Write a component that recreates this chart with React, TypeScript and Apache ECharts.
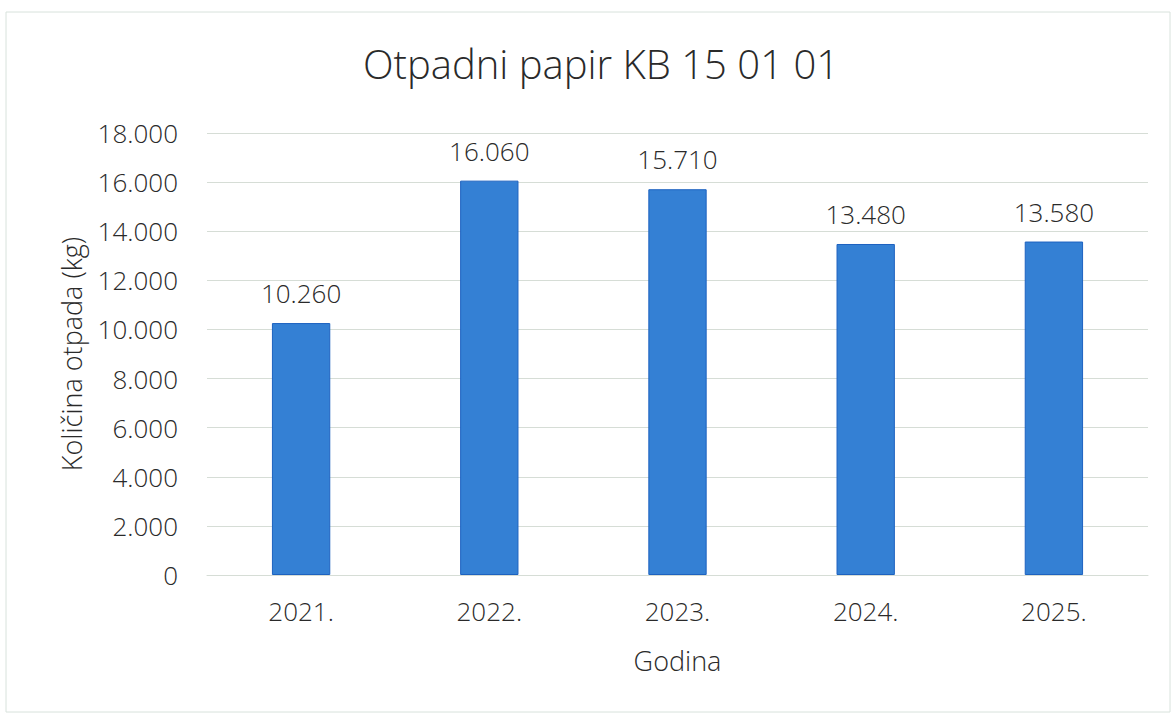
import React, { useEffect, useRef } from "react";
import * as echarts from "echarts";

const categories = ["2021.", "2022.", "2023.", "2024.", "2025."];
const values = [10260, 16060, 15710, 13480, 13580];
const titleText = "Otpadni papir KB 15 01 01";
const yAxisName = "Količina otpada (kg)";
const xAxisName = "Godina";

const fmt = (v: number) => {
  const s = Math.round(v).toString();
  return s.replace(/\B(?=(\d{3})+(?!\d))/g, ".");
};

const FONT = "'Open Sans', Lato, sans-serif";
const TXT = "#2a2a2a";

export default function App() {
  const ref = useRef<HTMLDivElement>(null);
  useEffect(() => {
    document.body.style.margin = "0";
    const chart = echarts.init(ref.current!, null, { renderer: "svg" });
    chart.setOption({
      animation: false,
      backgroundColor: "#ffffff",
      title: {
        text: titleText,
        left: 596,
        textAlign: "center",
        top: 38,
        textStyle: { fontFamily: FONT, fontSize: 40, fontWeight: 300, color: TXT },
      },
      graphic: [
        {
          type: "rect",
          shape: { x: 6, y: 12, width: 1164, height: 700 },
          style: { fill: "none", stroke: "#d8e2dc", lineWidth: 1 },
          silent: true,
        },
      ],
      grid: { left: 207, right: 28, top: 133, bottom: 142 },
      xAxis: {
        type: "category",
        data: categories,
        axisTick: { show: false },
        axisLine: { show: true, lineStyle: { color: "#d6ddd6" } },
        axisLabel: { fontFamily: FONT, fontSize: 26, fontWeight: 300, color: TXT, margin: 23 },
        name: xAxisName,
        nameLocation: "middle",
        nameGap: 72,
        nameTextStyle: { fontFamily: FONT, fontSize: 27, fontWeight: 300, color: TXT },
      },
      yAxis: {
        type: "value",
        min: 0,
        max: 18000,
        interval: 2000,
        axisLine: { show: false },
        axisTick: { show: false },
        splitLine: { lineStyle: { color: "#d6ddd6", width: 1 } },
        axisLabel: {
          fontFamily: FONT,
          fontSize: 26,
          fontWeight: 300,
          color: TXT,
          margin: 29,
          formatter: (v: number) => fmt(v),
        },
        name: yAxisName,
        nameLocation: "middle",
        nameGap: 122,
        nameRotate: 90,
        nameTextStyle: { fontFamily: FONT, fontSize: 27, fontWeight: 300, color: TXT },
      },
      series: [
        {
          type: "bar",
          data: values,
          barWidth: "31%",
          itemStyle: { color: "#3480d4", borderColor: "#1d62c0", borderWidth: 1 },
          label: {
            show: true,
            position: "top",
            distance: 17,
            fontFamily: FONT,
            fontSize: 26,
            fontWeight: 300,
            color: TXT,
            formatter: (p: any) => fmt(p.value),
          },
        },
      ],
    });
    return () => chart.dispose();
  }, []);
  return <div ref={ref} style={{ width: 1176, height: 717 }} />;
}
